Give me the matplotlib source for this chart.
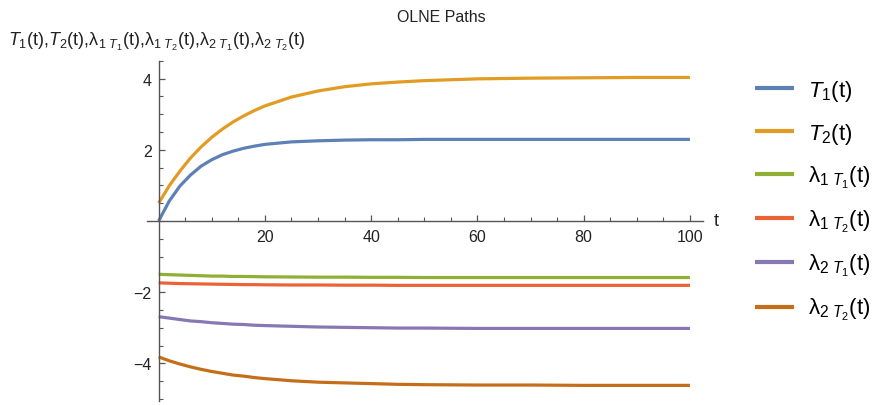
import matplotlib
matplotlib.use('Agg')
import matplotlib.pyplot as plt
from matplotlib.ticker import MultipleLocator

plt.rcParams['font.family'] = ['Liberation Sans', 'DejaVu Sans']
plt.rcParams['mathtext.fontset'] = 'custom'
plt.rcParams['mathtext.rm'] = 'Liberation Sans'
plt.rcParams['mathtext.it'] = 'Liberation Sans:italic'

# time grid and the six state / costate paths
t = [0, 2, 4, 6, 8, 10, 12, 14, 16, 18, 20, 25, 30, 35, 40, 45, 50, 60, 70, 80, 90, 100]

T1 = [0.00, 0.56, 0.98, 1.29, 1.54, 1.72, 1.86, 1.96, 2.04, 2.10, 2.15, 2.22, 2.25,
      2.27, 2.28, 2.28, 2.29, 2.29, 2.29, 2.29, 2.29, 2.29]
T2 = [0.50, 0.99, 1.40, 1.77, 2.08, 2.35, 2.58, 2.78, 2.95, 3.10, 3.23, 3.48, 3.65,
      3.77, 3.85, 3.90, 3.94, 3.99, 4.01, 4.02, 4.03, 4.03]
lam1T1 = [-1.50, -1.51, -1.52, -1.53, -1.54, -1.55, -1.55, -1.56, -1.56, -1.565, -1.57,
          -1.575, -1.58, -1.58, -1.585, -1.585, -1.59, -1.59, -1.59, -1.59, -1.59, -1.59]
lam1T2 = [-1.74, -1.75, -1.76, -1.765, -1.77, -1.775, -1.78, -1.785, -1.79, -1.79, -1.795,
          -1.80, -1.80, -1.805, -1.805, -1.81, -1.81, -1.81, -1.81, -1.81, -1.81, -1.81]
lam2T1 = [-2.69, -2.73, -2.77, -2.81, -2.83, -2.86, -2.88, -2.90, -2.91, -2.93, -2.94,
          -2.96, -2.98, -2.99, -3.00, -3.01, -3.01, -3.02, -3.02, -3.02, -3.02, -3.02]
lam2T2 = [-3.82, -3.93, -4.02, -4.10, -4.17, -4.23, -4.28, -4.33, -4.36, -4.40, -4.43,
          -4.49, -4.53, -4.55, -4.57, -4.59, -4.60, -4.61, -4.61, -4.62, -4.62, -4.62]

series = [T1, T2, lam1T1, lam1T2, lam2T1, lam2T2]
labels = [r'$\mathit{T}_1$(t)', r'$\mathit{T}_2$(t)',
          r'λ$_{1\ \mathit{T}_1}$(t)', r'λ$_{1\ \mathit{T}_2}$(t)',
          r'λ$_{2\ \mathit{T}_1}$(t)', r'λ$_{2\ \mathit{T}_2}$(t)']
colors = ['#5E81B5', '#E19C24', '#8FB032', '#EB6235', '#8778B3', '#C56E1A']

fig = plt.figure(figsize=(8.83, 4.06), dpi=100)
ax = fig.add_axes([0.1661, 0.0106, 0.6297, 0.8374])

for y, lab, c in zip(series, labels, colors):
    ax.plot(t, y, color=c, lw=2.3, label=lab, solid_capstyle='butt', solid_joinstyle='round')

ax.set_xlim(-2.26, 102.4)
ax.set_ylim(-5.05, 4.5)

# axes through the origin, Mathematica style
axcol = '#555555'
for s in ['top', 'right']:
    ax.spines[s].set_visible(False)
ax.spines['left'].set_position(('data', 0))
ax.spines['bottom'].set_position(('data', 0))
ax.spines['left'].set_color(axcol)
ax.spines['bottom'].set_color(axcol)
ax.spines['left'].set_linewidth(1.0)
ax.spines['bottom'].set_linewidth(1.0)

ax.set_xticks([20, 40, 60, 80, 100])
ax.set_yticks([-4, -2, 2, 4])
ax.xaxis.set_minor_locator(MultipleLocator(5))
ax.yaxis.set_minor_locator(MultipleLocator(0.5))
ax.tick_params(axis='x', which='both', direction='in', colors=axcol, labelcolor='#222222',
               labelsize=11.5, pad=6)
ax.tick_params(axis='y', which='both', direction='in', colors=axcol, labelcolor='#222222',
               labelsize=11.5, pad=5)
ax.tick_params(which='major', length=4.5, width=0.9)
ax.tick_params(which='minor', length=3, width=0.8)

ax.text(1.02, 0, 't', transform=ax.get_yaxis_transform(), fontsize=13,
        va='center', ha='left', color='#222222')

fig.text(0.5, 1 - 17 / 406, 'OLNE Paths', ha='center', va='center', fontsize=11.5,
         color='#222222')
fig.text(8 / 883, 1 - 42 / 406,
         r'$\mathit{T}_1$(t),$\mathit{T}_2$(t),λ$_{1\ \mathit{T}_1}$(t),λ$_{1\ \mathit{T}_2}$(t),'
         r'λ$_{2\ \mathit{T}_1}$(t),λ$_{2\ \mathit{T}_2}$(t)',
         ha='left', va='center', fontsize=13, color='#222222')

leg = fig.legend(loc='upper left', bbox_to_anchor=(755 / 883, 1 - 79 / 406),
                 frameon=False, fontsize=16, handlelength=1.77, handletextpad=0.6,
                 labelspacing=0.81, borderaxespad=0, borderpad=0)
for line in leg.get_lines():
    line.set_linewidth(3)

fig.savefig('out.png', dpi=100)
